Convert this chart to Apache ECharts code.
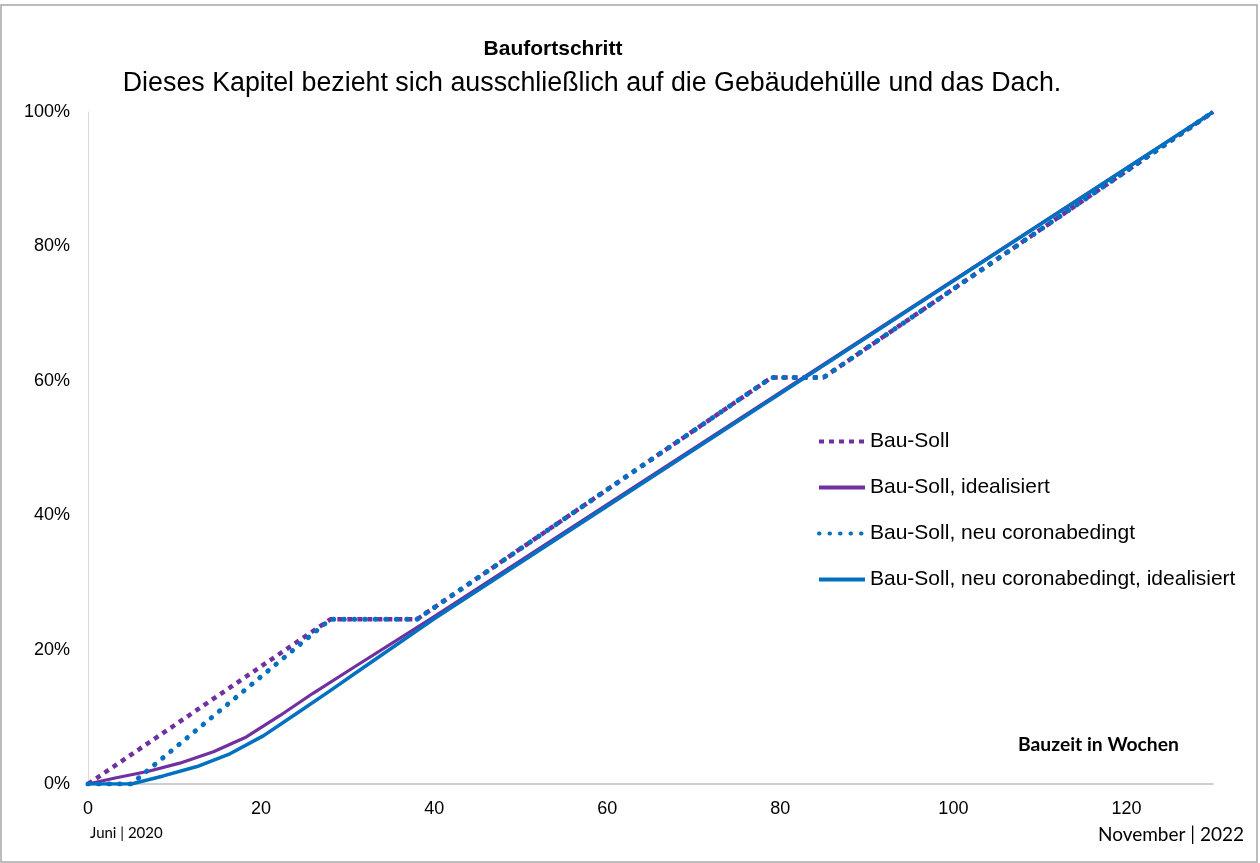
<!DOCTYPE html>
<html>
<head>
<meta charset="utf-8">
<script src="https://cdn.jsdelivr.net/npm/echarts@6/dist/echarts.min.js"></script>
<style>
html,body{margin:0;padding:0;background:#fff;}
#c{width:1260px;height:863px;}
</style>
</head>
<body>
<div id="c"></div>
<script>
const seriesNames = ['Bau-Soll', 'Bau-Soll, idealisiert', 'Bau-Soll, neu coronabedingt', 'Bau-Soll, neu coronabedingt, idealisiert'];
const xTicks = [0, 20, 40, 60, 80, 100, 120];

const sollWeeks = [0, 28, 38, 79, 85, 130];
const sollValues = [0, 24.5, 24.5, 60.5, 60.5, 100];

const sollIdealWeeks = [0, 3, 7, 10.6, 14.5, 18.3, 22.2, 26, 31, 40, 130];
const sollIdealValues = [0, 0.85, 1.9, 3.1, 4.8, 7.0, 10.2, 13.5, 17.6, 24.9, 100];

const coronaWeeks = [0, 5, 28, 38, 79, 85, 130];
const coronaValues = [0, 0, 24.5, 24.5, 60.5, 60.5, 100];

const coronaIdealWeeks = [0, 5, 8.7, 12.6, 16.4, 20.3, 24.1, 28, 31, 40, 130];
const coronaIdealValues = [0, 0, 1.2, 2.6, 4.5, 7.2, 10.5, 13.9, 16.6, 24.6, 100];

function pairs(xs, ys) { return xs.map((x, i) => [x, ys[i]]); }

const purple = '#7030A0';
const blue = '#0070C0';
const font = 'Liberation Sans, Arial, sans-serif';
const font2 = 'Lato, Liberation Sans, sans-serif';

const chart = echarts.init(document.getElementById('c'), null, {renderer: 'canvas'});
chart.setOption({
  backgroundColor: '#fff',
  animation: false,
  title: [
    {text: 'Baufortschritt', left: 548, top: 34, textAlign: 'center',
     textStyle: {fontFamily: font, fontSize: 21, fontWeight: 'bold', color: '#000'}},
    {text: 'Dieses Kapitel bezieht sich ausschließlich auf die Gebäudehülle und das Dach.', left: 587, top: 65, textAlign: 'center',
     textStyle: {fontFamily: font, fontSize: 26.8, fontWeight: 'normal', color: '#000'}}
  ],
  grid: {left: 88, right: 47, top: 112, bottom: 79, containLabel: false},
  xAxis: {
    type: 'value', min: 0, max: 130, interval: 20,
    axisLine: {show: true, lineStyle: {color: '#bfbfbf', width: 1.5}},
    axisTick: {show: false},
    splitLine: {show: false},
    axisLabel: {
      fontFamily: font, fontSize: 18, color: '#000', margin: 16,
      formatter: v => xTicks.includes(v) ? String(v) : ''
    }
  },
  yAxis: {
    type: 'value', min: 0, max: 100, interval: 20,
    axisLine: {show: true, lineStyle: {color: '#d9d9d9', width: 1}},
    axisTick: {show: false},
    splitLine: {show: false},
    axisLabel: {fontFamily: font, fontSize: 18, color: '#000', margin: 18, formatter: v => v + '%'}
  },
  legend: {
    orient: 'vertical', left: 812, top: 426, itemGap: 25, itemWidth: 46, itemHeight: 14,
    itemStyle: {opacity: 0},
    lineStyle: {width: 4},
    textStyle: {fontFamily: font, fontSize: 21, color: '#000'},
    data: seriesNames
  },
  graphic: [
    {type: 'rect', shape: {x: 1, y: 5, width: 1256, height: 857},
     style: {fill: 'none', stroke: '#a6a6a6', lineWidth: 1.5}, silent: true},
    {type: 'text', left: 1018, top: 735,
     style: {text: 'Bauzeit in Wochen', font: 'bold 19.3px ' + font2, fill: '#000'}},
    {type: 'text', left: 90, top: 826,
     style: {text: 'Juni | 2020', font: '15px ' + font2, fill: '#000'}},
    {type: 'text', right: 16, top: 825,
     style: {text: 'November | 2022', font: '19px ' + font2, fill: '#000'}}
  ],
  series: [
    {name: seriesNames[0], type: 'line', symbol: 'none', data: pairs(sollWeeks, sollValues),
     itemStyle: {color: purple},
     lineStyle: {color: purple, width: 4.5, type: [5, 5], cap: 'butt'}},
    {name: seriesNames[1], type: 'line', symbol: 'none', data: pairs(sollIdealWeeks, sollIdealValues),
     itemStyle: {color: purple},
     lineStyle: {color: purple, width: 3.2, join: 'round'}},
    {name: seriesNames[2], type: 'line', symbol: 'none', data: pairs(coronaWeeks, coronaValues),
     itemStyle: {color: blue},
     lineStyle: {color: blue, width: 5, type: [0.5, 10], cap: 'round'}},
    {name: seriesNames[3], type: 'line', symbol: 'none', data: pairs(coronaIdealWeeks, coronaIdealValues),
     itemStyle: {color: blue},
     lineStyle: {color: blue, width: 3.5, join: 'round'}}
  ]
});
</script>
</body>
</html>
